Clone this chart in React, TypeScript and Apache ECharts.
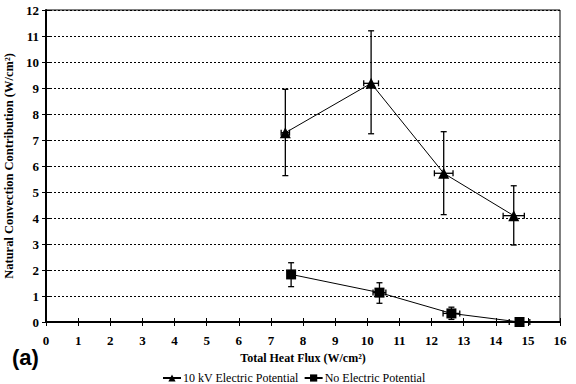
import React, { useEffect, useRef } from "react";
import * as echarts from "echarts";

// Total heat flux (W/cm²) and natural convection contribution (W/cm²)
const kvFlux = [7.45, 10.12, 12.38, 14.56];
const kvConv = [7.28, 9.18, 5.72, 4.09];
const kvConvLow = [5.63, 7.24, 4.13, 2.96];
const kvConvHigh = [8.95, 11.2, 7.32, 5.24];
const kvFluxErr = [0.13, 0.23, 0.29, 0.33];

const noFlux = [7.63, 10.38, 12.62, 14.74];
const noConv = [1.83, 1.13, 0.33, 0.0];
const noConvLow = [1.36, 0.72, 0.1, 0.0];
const noConvHigh = [2.28, 1.51, 0.57, 0.0];
const noFluxErr = [0.1, 0.2, 0.26, 0.32];

const seriesNames = ["10 kV Electric Potential", "No Electric Potential"];

const SERIF = "Liberation Serif";

function errorRows(
  x: number[],
  y: number[],
  lo: number[],
  hi: number[],
  xe: number[]
) {
  return x.map((v, i) => [v, y[i], lo[i], hi[i], xe[i]]);
}

function renderErrorBar(_params: any, api: any) {
  const x = api.value(0);
  const y = api.value(1);
  const lo = api.value(2);
  const hi = api.value(3);
  const xe = api.value(4);
  const c = api.coord([x, y]);
  const top = api.coord([x, hi]);
  const bot = api.coord([x, lo]);
  const left = api.coord([x - xe, y]);
  const right = api.coord([x + xe, y]);
  const cap = 3;
  const style = { stroke: "#000", lineWidth: 1.3 };
  const children: any[] = [];
  if (Math.abs(bot[1] - top[1]) > 0.5) {
    children.push(
      { type: "line", shape: { x1: c[0], y1: top[1], x2: c[0], y2: bot[1] }, style },
      { type: "line", shape: { x1: c[0] - cap, y1: top[1], x2: c[0] + cap, y2: top[1] }, style },
      { type: "line", shape: { x1: c[0] - cap, y1: bot[1], x2: c[0] + cap, y2: bot[1] }, style }
    );
  }
  children.push(
    { type: "line", shape: { x1: left[0], y1: c[1], x2: right[0], y2: c[1] }, style },
    { type: "line", shape: { x1: left[0], y1: c[1] - cap, x2: left[0], y2: c[1] + cap }, style },
    { type: "line", shape: { x1: right[0], y1: c[1] - cap, x2: right[0], y2: c[1] + cap }, style }
  );
  return { type: "group", children };
}

export default function App() {
  const ref = useRef<HTMLDivElement>(null);

  useEffect(() => {
    if (!ref.current) return;
    const chart = echarts.init(ref.current, undefined, { renderer: "svg" });
    const labelStyle = {
      fontFamily: SERIF,
      fontWeight: "bold" as const,
      fontSize: 13,
      color: "#000",
    };
    chart.setOption({
      animation: false,
      backgroundColor: "#fff",
      grid: {
        left: 46,
        right: 16,
        top: 10,
        bottom: 62,
        show: true,
        borderColor: "#000",
        borderWidth: 1,
        outerBoundsMode: "none",
        containLabel: false,
      },
      legend: {
        left: 157,
        top: 367,
        itemWidth: 18,
        itemHeight: 9,
        itemGap: 5,
        textStyle: { fontFamily: SERIF, fontSize: 12, color: "#000", padding: [0, 0, 0, -3] },
        data: seriesNames,
      },
      graphic: [
        {
          type: "text",
          left: 12,
          top: 346,
          style: {
            text: "(a)",
            fontFamily: "Liberation Sans",
            fontSize: 22,
            fontWeight: "bold",
            fill: "#000",
          },
        },
      ],
      xAxis: [
        {
          type: "value",
          min: 0,
          max: 16,
          interval: 1,
          name: "Total Heat Flux (W/cm²)",
          nameLocation: "middle",
          nameGap: 27,
          nameTextStyle: { ...labelStyle, fontSize: 12 },
          axisLine: { lineStyle: { color: "#000", width: 2 } },
          axisTick: { show: true, length: 4, lineStyle: { color: "#000", width: 1 } },
          axisLabel: { ...labelStyle, margin: 12 },
          splitLine: { show: false },
        },
        {
          type: "value",
          min: 0,
          max: 16,
          interval: 1,
          position: "bottom",
          axisLine: { show: false },
          axisTick: { show: true, inside: true, length: 4, lineStyle: { color: "#000", width: 1 } },
          axisLabel: { show: false },
          splitLine: { show: false },
        },
      ],
      yAxis: [
        {
          type: "value",
          min: 0,
          max: 12,
          interval: 1,
          name: "Natural Convection Contribution (W/cm²)",
          nameLocation: "middle",
          nameGap: 25,
          nameRotate: 90,
          nameTextStyle: { ...labelStyle, fontSize: 12.5 },
          axisLine: { show: true, lineStyle: { color: "#000", width: 2 } },
          axisTick: { show: true, length: 4, lineStyle: { color: "#000", width: 1 } },
          axisLabel: { ...labelStyle, margin: 7 },
          splitLine: { show: true, lineStyle: { color: "#000", type: [2, 2], width: 1 } },
        },
        {
          type: "value",
          min: 0,
          max: 12,
          interval: 1,
          position: "left",
          axisLine: { show: false },
          axisTick: { show: true, inside: true, length: 4, lineStyle: { color: "#000", width: 1 } },
          axisLabel: { show: false },
          splitLine: { show: false },
        },
      ],
      series: [
        {
          name: seriesNames[0],
          type: "line",
          data: kvFlux.map((v, i) => [v, kvConv[i]]),
          symbol: "triangle",
          symbolSize: 11,
          itemStyle: { color: "#000" },
          lineStyle: { color: "#000", width: 1 },
          z: 5,
        },
        {
          name: seriesNames[1],
          type: "line",
          data: noFlux.map((v, i) => [v, noConv[i]]),
          symbol: "rect",
          symbolSize: 10,
          itemStyle: { color: "#000" },
          lineStyle: { color: "#000", width: 1 },
          z: 5,
        },
        {
          type: "custom",
          renderItem: renderErrorBar,
          data: errorRows(kvFlux, kvConv, kvConvLow, kvConvHigh, kvFluxErr),
          encode: { x: 0, y: 1 },
          z: 4,
          silent: true,
        },
        {
          type: "custom",
          renderItem: renderErrorBar,
          data: errorRows(noFlux, noConv, noConvLow, noConvHigh, noFluxErr),
          encode: { x: 0, y: 1 },
          z: 4,
          silent: true,
        },
      ],
    });
    return () => chart.dispose();
  }, []);

  return (
    <div
      ref={ref}
      style={{ position: "absolute", left: 0, top: 0, width: 576, height: 384 }}
    />
  );
}
